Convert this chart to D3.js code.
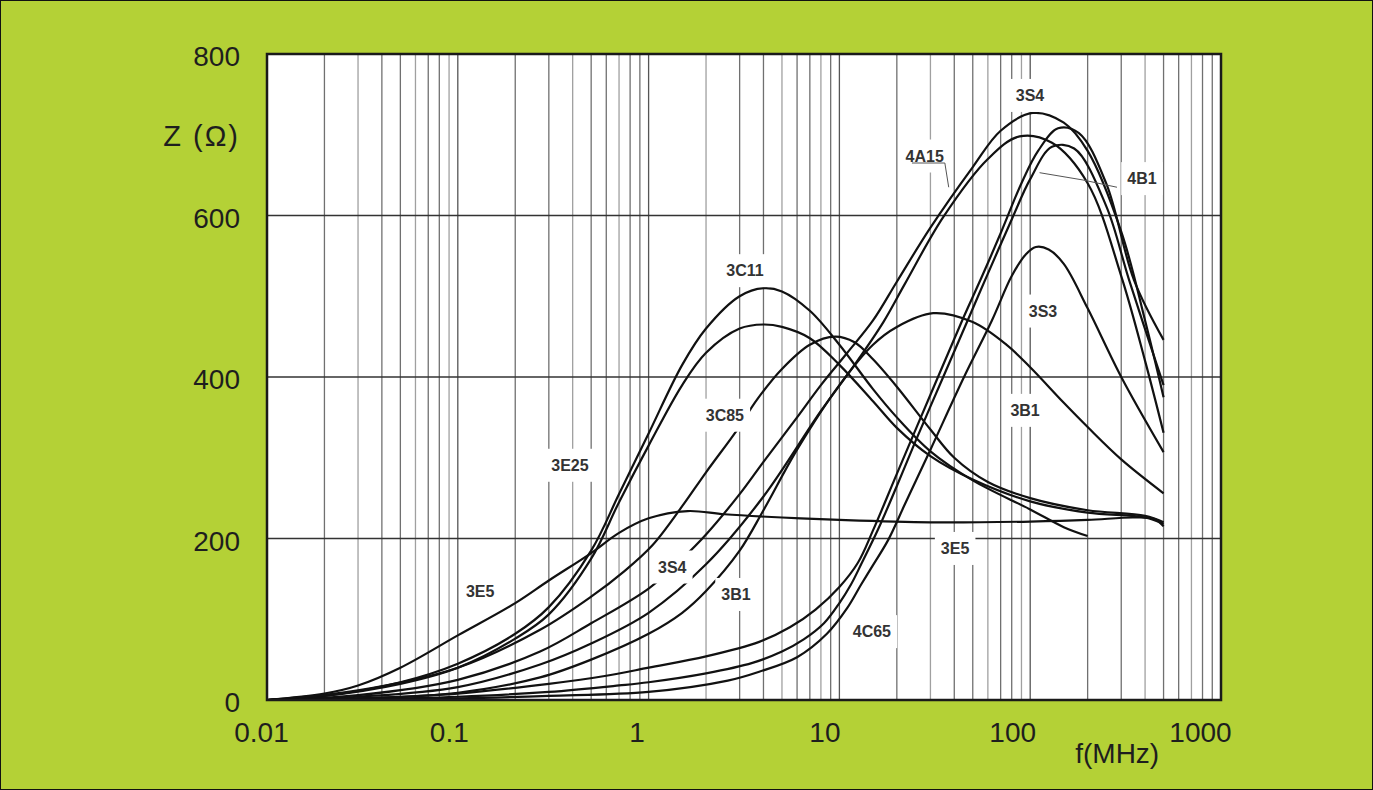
<!DOCTYPE html>
<html>
<head>
<meta charset="utf-8">
<script src="https://cdn.jsdelivr.net/npm/d3@7"></script>
<style>
  html, body { margin: 0; padding: 0; background: #b4d136; }
  svg { display: block; }
</style>
</head>
<body>
<svg id="chart" width="1373" height="790"></svg>
<script>
// ---------------- DATA ----------------
const xTickValues = [0.01, 0.1, 1, 10, 100, 1000];
const xTickLabels = ["0.01", "0.1", "1", "10", "100", "1000"];
const yTickValues = [0, 200, 400, 600, 800];
const yTickLabels = ["0", "200", "400", "600", "800"];
const yAxisTitle = "Z (\u03A9)";
const xAxisTitle = "f(MHz)";

// each series: [frequency MHz, impedance Ohm]
const s3E5  = [[0.01,0],[0.02,8],[0.03,18],[0.05,40],[0.1,80],[0.2,120],[0.3,148],[0.5,182],[0.7,207],[1,225],[1.6,234],[2.5,230],[5,226],[10,223],[30,220],[100,221],[200,223],[350,226],[450,224],[500,215]];
const s3C11 = [[0.01,0],[0.02,5],[0.05,22],[0.1,45],[0.2,82],[0.3,115],[0.5,185],[0.7,255],[1,330],[1.5,415],[2,460],[3,500],[4,510],[5,506],[7,482],[10,440],[15,385],[20,350],[30,308],[50,272],[100,236],[150,214],[200,203]];
const s3E25 = [[0.01,0],[0.02,5],[0.05,20],[0.1,40],[0.2,76],[0.3,106],[0.5,175],[0.7,245],[1,315],[1.5,390],[2,430],[3,460],[4,465],[5,462],[7,448],[10,415],[15,370],[20,337],[30,302],[50,273],[100,246],[200,232],[400,226],[500,218]];
const s3C85 = [[0.01,0],[0.03,12],[0.1,40],[0.27,87],[0.5,128],[0.75,160],[1.05,192],[1.5,240],[2,282],[2.9,334],[3.7,372],[5,410],[7,440],[9.5,450],[12,443],[15,422],[20,388],[30,335],[40,300],[60,270],[100,250],[200,235],[400,228],[500,220]];
const s3B1  = [[0.01,0],[0.03,2],[0.1,9],[0.27,28],[0.5,50],[1,82],[1.5,108],[2,135],[3,185],[4,235],[6,310],[10,390],[15,440],[20,462],[31,479],[50,468],[75,440],[100,412],[150,368],[200,338],[300,298],[500,256]];
const s3S4  = [[0.01,0],[0.03,6],[0.1,25],[0.27,60],[0.5,95],[1,138],[1.5,175],[2,205],[3,255],[4,295],[6,350],[8,390],[11,430],[15,470],[20,518],[30,585],[50,660],[70,705],[103,727],[150,715],[200,680],[300,580],[400,470],[500,375]];
const s4A15 = [[0.01,0],[0.03,4],[0.1,16],[0.27,44],[0.5,70],[1,108],[2,168],[4,252],[8,358],[12,415],[17,468],[22,515],[35,598],[60,670],[88,698],[130,690],[200,640],[300,525],[400,420],[500,331]];
const s4B1  = [[0.01,0],[0.03,2],[0.1,8],[0.3,20],[0.6,30],[1,40],[2,54],[3.8,72],[5.5,90],[7.5,112],[10,140],[12.5,170],[15,210],[20,280],[30,378],[44,470],[56,525],[70,578],[90,640],[110,680],[140,708],[180,702],[250,640],[350,520],[500,446]];
const s4C65 = [[0.01,0],[0.03,1],[0.1,4],[0.3,10],[0.7,18],[1,22],[2,33],[3.5,46],[5,60],[6.5,75],[8.3,95],[10,120],[11.5,143],[13,168],[16,212],[20,265],[25,320],[35,400],[47,470],[60,528],[80,595],[100,645],[130,685],[170,683],[250,612],[330,520],[500,390]];
const s3S3  = [[0.01,0],[0.1,2],[0.3,5],[1,10],[2.6,24],[3.8,35],[6,53],[8.6,82],[11,114],[13,143],[15,167],[18,198],[22,242],[30,310],[45,400],[63,470],[80,525],[95,552],[107,561],[125,558],[150,540],[200,485],[300,400],[500,307]];

const seriesList = [s3E5, s3C11, s3E25, s3C85, s3B1, s3S4, s4A15, s4B1, s4C65, s3S3];

// curve labels: text, anchor frequency (MHz), anchor impedance (Ohm)
const labelTexts = ["3S4","4A15","4B1","3C11","3S3","3C85","3B1","3E25","3E5","3S4","3B1","3E5","4C65"];
const labelFreqs = [99.8, 28, 385, 3.2, 116.7, 2.51, 94, 0.387, 0.131, 1.33, 2.87, 40.4, 14.8];
const labelZs    = [749, 674, 646, 532, 482, 353, 359, 291, 135, 165, 131, 188, 85];

// leader lines for 4A15 and 4B1, [f, Z] points
const leader4A15 = [[24, 665], [35.7, 665], [37.4, 635]];
const leader4B1  = [[112, 653], [189, 644], [285, 635]];
</script>
<script>
const svg = d3.select("#chart");
const W = 1373, H = 790;
const plot = {left: 267, right: 1221, top: 54, bottom: 700};
const font = "Liberation Sans, Arial, sans-serif";

const x = d3.scaleLog().domain([0.01, 1000]).range([plot.left, plot.right]);
const y = d3.scaleLinear().domain([0, 800]).range([plot.bottom, plot.top]);

// outer frame
svg.append("rect").attr("x", 0.5).attr("y", 0.5).attr("width", W - 1).attr("height", H - 1)
  .attr("fill", "#b4d136").attr("stroke", "#111").attr("stroke-width", 1);

svg.append("clipPath").attr("id", "plotClip").append("rect")
  .attr("x", plot.left).attr("y", plot.top)
  .attr("width", plot.right - plot.left).attr("height", plot.bottom - plot.top);

// plot background
svg.append("rect").attr("x", plot.left).attr("y", plot.top)
  .attr("width", plot.right - plot.left).attr("height", plot.bottom - plot.top)
  .attr("fill", "#ffffff");

// vertical grid (log minor ticks)
const minor = [];
for (let d = -2; d < 3; d++) {
  for (let m = 2; m <= 9; m++) minor.push(m * Math.pow(10, d));
}
svg.append("g").selectAll("line").data(minor).join("line")
  .attr("x1", d => x(d)).attr("x2", d => x(d))
  .attr("y1", plot.top).attr("y2", plot.bottom)
  .attr("stroke", (d, i) => (i % 3 === 1 ? "#a0a0a0" : "#707070"))
  .attr("stroke-width", 1.3);
svg.append("g").selectAll("line").data(xTickValues.slice(1, -1)).join("line")
  .attr("x1", d => x(d)).attr("x2", d => x(d))
  .attr("y1", plot.top).attr("y2", plot.bottom)
  .attr("stroke", "#555").attr("stroke-width", 1.3);

// horizontal grid
svg.append("g").selectAll("line").data(yTickValues.slice(1, -1)).join("line")
  .attr("x1", plot.left).attr("x2", plot.right)
  .attr("y1", d => y(d)).attr("y2", d => y(d))
  .attr("stroke", "#333").attr("stroke-width", 1.3);

// curves
const line = d3.line().x(d => x(d[0])).y(d => y(d[1])).curve(d3.curveCatmullRom.alpha(0.5));
svg.append("g").attr("clip-path", "url(#plotClip)")
  .selectAll("path").data(seriesList).join("path")
  .attr("d", line).attr("fill", "none").attr("stroke", "#111").attr("stroke-width", 2.2)
  .attr("stroke-linejoin", "round");

// curve labels with white masking boxes
const lg = svg.append("g");
labelTexts.forEach((t, i) => {
  const g = lg.append("g").attr("transform", `translate(${x(labelFreqs[i])},${y(labelZs[i])})`);
  const txt = g.append("text").attr("text-anchor", "middle").attr("dy", "0.36em")
    .attr("font-family", font).attr("font-size", 16)
    .attr("font-weight", "bold").attr("fill", "#333").text(t);
  const bb = txt.node().getBBox();
  g.insert("rect", "text").attr("x", bb.x - 6).attr("y", bb.y - 8)
    .attr("width", bb.width + 12).attr("height", bb.height + 16).attr("fill", "#fff");
});

// leader lines
const leaderLine = d3.line().x(d => x(d[0])).y(d => y(d[1]));
svg.append("g").selectAll("path").data([leader4A15, leader4B1]).join("path")
  .attr("d", leaderLine).attr("fill", "none").attr("stroke", "#555").attr("stroke-width", 1);

// plot border
svg.append("rect").attr("x", plot.left).attr("y", plot.top)
  .attr("width", plot.right - plot.left).attr("height", plot.bottom - plot.top)
  .attr("fill", "none").attr("stroke", "#1a1a1a").attr("stroke-width", 2.5);

// axes
const xAxis = d3.axisBottom(x).tickValues(xTickValues).tickFormat((d, i) => xTickLabels[i]).tickSize(0).tickPadding(22);
const gx = svg.append("g").attr("transform", `translate(0,${plot.bottom})`).call(xAxis);
gx.select(".domain").remove();
gx.selectAll("text").attr("font-family", font).attr("font-size", 28).attr("fill", "#1e1e1e")
  .attr("dx", (d, i) => -6 - i * 3);

const yAxis = d3.axisLeft(y).tickValues(yTickValues).tickFormat((d, i) => yTickLabels[i]).tickSize(0).tickPadding(17);
const gy = svg.append("g").attr("transform", `translate(${plot.left - 10},0)`).call(yAxis);
gy.select(".domain").remove();
gy.selectAll("text").attr("font-family", font).attr("font-size", 28).attr("fill", "#1e1e1e").attr("dy", "0.42em");

// axis titles
svg.append("text").attr("x", plot.left - 27).attr("y", y(686)).attr("text-anchor", "end")
  .attr("font-family", font).attr("font-size", 29).attr("letter-spacing", 2).attr("fill", "#1e1e1e").text(yAxisTitle);
svg.append("text").attr("x", x(100) + 87).attr("y", plot.bottom + 63).attr("text-anchor", "middle")
  .attr("font-family", font).attr("font-size", 28).attr("fill", "#1e1e1e").text(xAxisTitle);
</script>
</body>
</html>
